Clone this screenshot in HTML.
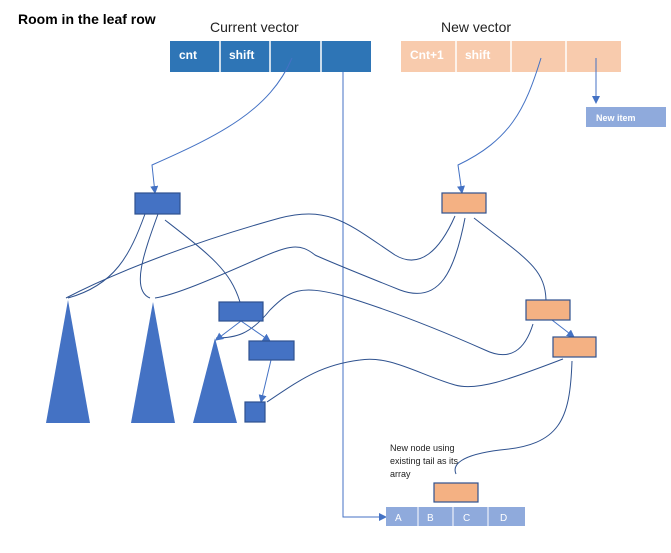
<!DOCTYPE html>
<html><head><style>
body{margin:0;background:#fff;}
svg{display:block;font-family:"Liberation Sans",Calibri,sans-serif;}
</style></head><body>
<svg width="671" height="553" viewBox="0 0 671 553" xmlns="http://www.w3.org/2000/svg">
<defs>
<marker id="a" markerWidth="8" markerHeight="8" refX="7" refY="4" orient="auto" markerUnits="userSpaceOnUse">
<path d="M0,0 L8,4 L0,8 z" fill="#4472c4"/></marker>
</defs>
<text x="18" y="24" font-size="14" font-weight="bold" fill="#000">Room in the leaf row</text>
<text x="210" y="32" font-size="14" fill="#222">Current vector</text>
<text x="441" y="32" font-size="14" fill="#222">New vector</text>
<!-- current vector -->
<rect x="170" y="41" width="201" height="31" fill="#2e75b6"/>
<g stroke="#fff" stroke-width="1.5"><line x1="220" y1="41" x2="220" y2="72"/><line x1="270" y1="41" x2="270" y2="72"/><line x1="321" y1="41" x2="321" y2="72"/></g>
<text x="179" y="59" font-size="12" font-weight="bold" fill="#fff">cnt</text>
<text x="229" y="59" font-size="12" font-weight="bold" fill="#fff">shift</text>
<!-- new vector -->
<rect x="401" y="41" width="220" height="31" fill="#f8cbad"/>
<g stroke="#fff" stroke-width="1.5"><line x1="456" y1="41" x2="456" y2="72"/><line x1="511" y1="41" x2="511" y2="72"/><line x1="566" y1="41" x2="566" y2="72"/></g>
<text x="410" y="59" font-size="12" font-weight="bold" fill="#fff">Cnt+1</text>
<text x="465" y="59" font-size="12" font-weight="bold" fill="#fff">shift</text>
<rect x="586" y="107" width="80" height="20" fill="#8faadc"/>
<text x="596" y="121" font-size="9" font-weight="bold" fill="#fff">New item</text>
<g fill="none" stroke="#4472c4" stroke-width="1">
<path d="M292,58 C270,110 220,135 152,165 L155,193" marker-end="url(#a)"/>
<path d="M541,58 C525,110 510,140 458,165 L462,193" marker-end="url(#a)"/>
<path d="M596,58 L596,103" marker-end="url(#a)"/>
<path d="M343,72 L343,517 L386,517" marker-end="url(#a)"/>
</g>
<g fill="none" stroke="#2f528f" stroke-width="1">
<path d="M145,214 C130,255 115,285 68,298"/>
<path d="M158,214 C145,250 130,290 150,298"/>
<path d="M165,220 C210,255 230,270 240,302"/>
<path d="M455,216 C440,250 420,270 395,255 C350,225 330,205 280,218 C200,240 120,270 66,298"/>
<path d="M465,218 C455,270 440,305 400,290 C350,270 330,262 315,255 C300,243 290,245 260,258 C210,280 175,295 155,298"/>
<path d="M474,218 C525,258 545,268 546,300"/>
<path d="M533,324 C525,350 510,362 485,350 C440,330 390,310 340,295 C300,285 290,290 270,310 C250,335 235,338 216,338"/>
<path d="M563,359 C520,375 480,392 455,385 C420,375 390,355 360,360 C320,365 300,380 267,402"/>
<path d="M572,361 C570,420 560,445 500,450 C460,455 452,465 456,474"/>
</g>
<g fill="none" stroke="#4472c4" stroke-width="1">
<path d="M241,321 L216,340" marker-end="url(#a)"/>
<path d="M241,321 L270,341" marker-end="url(#a)"/>
<path d="M271,360 L261,402" marker-end="url(#a)"/>
<path d="M552,320 L574,337" marker-end="url(#a)"/>
<path d="M563,359 L267,402" stroke="none" />
</g>
<!-- nodes -->
<g fill="#4472c4" stroke="#2f528f" stroke-width="1.2">
<rect x="135" y="193" width="45" height="21"/>
<rect x="219" y="302" width="44" height="19"/>
<rect x="249" y="341" width="45" height="19"/>
<rect x="245" y="402" width="20" height="20"/>
</g>
<g fill="#4472c4">
<polygon points="68,300 90,423 46,423"/>
<polygon points="153,302 175,423 131,423"/>
<polygon points="215,338 237,423 193,423"/>
</g>
<g fill="#f4b183" stroke="#2f528f" stroke-width="1.2">
<rect x="442" y="193" width="44" height="20"/>
<rect x="526" y="300" width="44" height="20"/>
<rect x="553" y="337" width="43" height="20"/>
<rect x="434" y="483" width="44" height="19"/>
</g>
<rect x="386" y="507" width="139" height="19" fill="#8faadc"/>
<g stroke="#fff" stroke-width="1"><line x1="418" y1="507" x2="418" y2="526"/><line x1="453" y1="507" x2="453" y2="526"/><line x1="488" y1="507" x2="488" y2="526"/></g>
<g font-size="10" fill="#fff"><text x="395" y="521">A</text><text x="427" y="521">B</text><text x="463" y="521">C</text><text x="500" y="521">D</text></g>
<g font-size="9" fill="#222"><text x="390" y="451">New node using</text><text x="390" y="464">existing tail as its</text><text x="390" y="477">array</text></g>
</svg>
</body></html>
